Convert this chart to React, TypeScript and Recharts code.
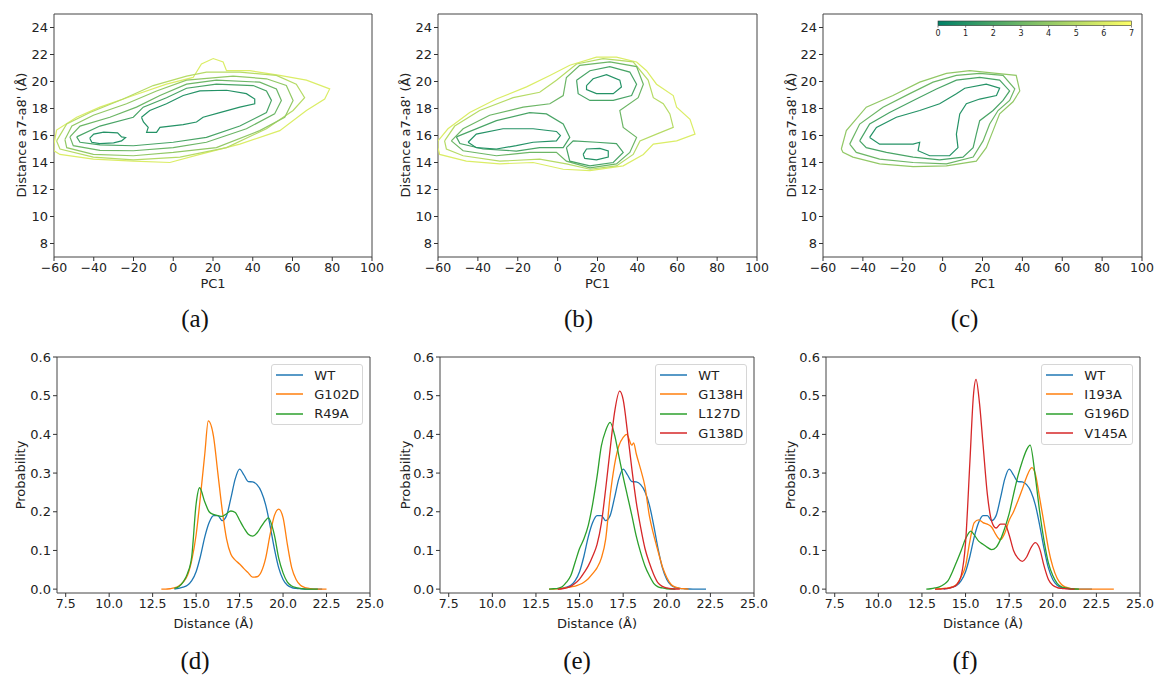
import React from "react";
import { LineChart, Line, XAxis, YAxis, ReferenceArea } from "recharts";

type Pt = [number, number];

// ---- tick labels ----
const pcTicks = [-60, -40, -20, 0, 20, 40, 60, 80, 100];
const distTicks = [8, 10, 12, 14, 16, 18, 20, 22, 24];
const distanceTicks = [7.5, 10.0, 12.5, 15.0, 17.5, 20.0, 22.5, 25.0];
const probTicks = [0.0, 0.1, 0.2, 0.3, 0.4, 0.5, 0.6];
const colorbarTicks = [0, 1, 2, 3, 4, 5, 6, 7];

// ---- free energy contours, (PC1, distance) ----
const aLevel1Left: Pt[] = [[-42, 15.8], [-40, 16.1], [-35, 16.25], [-28, 16.2], [-26, 15.9], [-24, 15.85], [-26, 15.6], [-30, 15.45], [-37, 15.4], [-41, 15.5], [-42, 15.8]];
const aLevel1Right: Pt[] = [[-16, 17.35], [-11.8, 17.85], [-3.4, 18.35], [5, 18.96], [13.4, 19.3], [26.8, 19.35], [36.8, 19.1], [41, 18.7], [41, 18.35], [33.5, 18.1], [23.4, 17.7], [15, 17.35], [11.7, 17.0], [5, 16.8], [-6.7, 16.6], [-8.4, 16.23], [-13.4, 16.23], [-12.6, 16.6], [-15, 17.0], [-16, 17.35]];
const aLevel2: Pt[] = [[-48.6, 15.9], [-36.9, 16.7], [-20.1, 17.35], [-15.1, 18.1], [-3.4, 18.8], [6.7, 19.5], [21.7, 19.8], [40.2, 19.7], [46.9, 19.3], [49.4, 18.6], [46.9, 17.7], [33.5, 16.7], [16.7, 15.86], [0, 15.5], [-20.1, 15.24], [-36.9, 15.3], [-46.9, 15.5], [-48.6, 15.9]];
const aLevel3: Pt[] = [[-52, 15.9], [-46.9, 16.7], [-31.9, 17.35], [-18.5, 18.1], [-6.7, 18.96], [6.7, 19.8], [21.7, 20.1], [43.5, 19.95], [51.9, 19.45], [54.4, 18.6], [51, 17.6], [36.8, 16.5], [16.7, 15.5], [0, 15.1], [-20.1, 14.87], [-36.9, 14.9], [-50.3, 15.25], [-52, 15.9]];
const aLevel4: Pt[] = [[-54.5, 15.7], [-51, 16.7], [-40.2, 17.5], [-23.5, 18.35], [-8.4, 19.3], [6.7, 20.1], [30.1, 20.4], [46.9, 20.2], [56.9, 19.7], [60.3, 18.6], [56.1, 17.35], [43.5, 16.36], [21.7, 15.1], [0, 14.75], [-20.1, 14.5], [-40.2, 14.6], [-53.6, 15.1], [-54.5, 15.7]];
const aLevel5: Pt[] = [[-58.7, 15.6], [-53.6, 16.85], [-41.9, 17.7], [-25.2, 18.7], [-10.1, 19.7], [6.7, 20.4], [16.7, 20.7], [33.5, 20.7], [51.9, 20.45], [61.9, 19.8], [66.1, 18.8], [60.3, 17.85], [46.9, 16.5], [26.8, 15.1], [3.4, 14.4], [-20.1, 14.2], [-40.2, 14.4], [-57, 15.0], [-58.7, 15.6]];
const aLevel6: Pt[] = [[-60, 15.36], [-58.7, 16.4], [-48.6, 17.35], [-36.9, 18.1], [-20.1, 18.96], [-3.4, 19.8], [10, 20.3], [14.2, 21.3], [20.1, 21.7], [25.1, 21.45], [26.8, 20.8], [38.5, 20.8], [53.6, 20.45], [67, 20.1], [78.7, 19.45], [76.2, 18.7], [67, 17.85], [53.6, 16.36], [33.5, 15.36], [13.4, 14.6], [-1.7, 14.0], [-20.1, 14.1], [-40.2, 14.25], [-57, 14.6], [-60, 14.87], [-60, 15.36]];

const bLevel1Left: Pt[] = [[-44.9, 15.5], [-40.8, 16.1], [-27.4, 16.5], [-12.3, 16.5], [-0.6, 16.3], [1.4, 16.0], [-0.6, 15.6], [-12.3, 15.5], [-20.7, 15.25], [-30.7, 15.0], [-40.8, 15.1], [-44.9, 15.5]];
const bLevel1Top: Pt[] = [[14.5, 19.7], [17.8, 20.2], [24.5, 20.5], [31.2, 20.1], [32, 19.6], [27.9, 19.1], [19.5, 19.1], [14.5, 19.4], [14.5, 19.7]];
const bLevel1Bottom: Pt[] = [[12.8, 14.6], [14.5, 15.0], [21.2, 15.05], [25.4, 14.85], [25.4, 14.4], [19.5, 14.2], [13.6, 14.3], [12.8, 14.6]];
const bLevel2Left: Pt[] = [[-50.8, 15.9], [-30.7, 17.1], [-14, 17.7], [-5.6, 17.6], [2.8, 16.85], [6.1, 15.86], [2.8, 15.1], [-9, 15.1], [-20.7, 14.85], [-37.4, 15.0], [-49, 15.4], [-50.8, 15.9]];
const bLevel2Top: Pt[] = [[9.5, 20.1], [16.2, 20.8], [26.2, 21.1], [36.2, 20.7], [39.6, 19.8], [37.1, 18.96], [27.9, 18.6], [16.2, 18.6], [10.3, 19.1], [9.5, 20.1]];
const bLevel2Bottom: Pt[] = [[4.4, 15.1], [7.8, 15.6], [19.5, 15.5], [29.5, 15.4], [32.9, 14.75], [27.9, 14.0], [16.2, 13.75], [6.1, 14.1], [4.4, 15.1]];
const bLevel3: Pt[] = [[-53.3, 15.6], [-47.4, 16.5], [-34.1, 17.5], [-17.3, 18.1], [-3.9, 18.35], [2.8, 18.96], [4.4, 20.3], [11.1, 21.2], [26.2, 21.45], [39.6, 21.1], [43, 19.8], [40.4, 18.8], [31.2, 17.85], [32.9, 16.6], [39.6, 15.86], [36.2, 14.75], [29.5, 13.9], [16.2, 13.6], [4.4, 14.1], [-0.6, 14.75], [-14, 14.75], [-30.7, 14.5], [-47.4, 14.87], [-53.3, 15.6]];
const bLevel4: Pt[] = [[-56.7, 15.6], [-51.6, 16.7], [-39.1, 17.85], [-22.3, 18.8], [-9, 19.2], [-0.6, 20.1], [9.5, 21.3], [22.8, 21.7], [37.9, 21.45], [45.4, 20.1], [48, 18.8], [53, 18.35], [56.3, 17.6], [58, 16.6], [49.6, 16.1], [41.3, 15.6], [37.9, 14.6], [29.5, 13.75], [16.2, 13.5], [4.4, 13.9], [-9, 14.25], [-29, 14.1], [-47.4, 14.5], [-55.8, 15.0], [-56.7, 15.6]];
const bLevel5: Pt[] = [[-60, 15.6], [-55, 16.5], [-44.1, 17.7], [-30.7, 18.7], [-15.6, 19.6], [-3.9, 20.45], [6.1, 21.2], [19.5, 21.8], [29.5, 21.8], [39.6, 21.45], [44.6, 20.8], [49.6, 19.8], [58, 18.96], [59.7, 18.1], [66.4, 17.2], [68.9, 16.1], [59.7, 15.6], [48, 15.36], [43, 14.6], [32.9, 13.75], [16.2, 13.4], [2.8, 13.5], [-12.3, 14.0], [-29, 13.9], [-45.8, 14.1], [-59.2, 14.6], [-60, 15.1], [-60, 15.6]];

const cLevel1: Pt[] = [[-36.6, 15.86], [-33.2, 16.6], [-23.2, 17.35], [-11.5, 17.85], [-1.5, 18.35], [6.9, 19.1], [11.1, 19.5], [21.9, 19.8], [28.6, 19.5], [27, 18.96], [18.6, 18.7], [11.9, 18.35], [8.6, 17.6], [6.9, 16.1], [7.7, 15.1], [3.5, 14.5], [-6.5, 14.5], [-12.3, 14.87], [-11.5, 15.5], [-14.8, 15.36], [-23.2, 15.36], [-31.6, 15.36], [-36.6, 15.86]];
const cLevel2: Pt[] = [[-41.6, 15.6], [-36.6, 16.85], [-26.6, 17.7], [-13.2, 18.7], [-3.1, 19.45], [6.9, 20.1], [18.6, 20.3], [28.6, 20.1], [33.6, 19.3], [30.3, 18.6], [25.3, 17.85], [18.6, 17.1], [16.9, 16.1], [15.3, 15.1], [10.2, 14.4], [-1.5, 14.2], [-14.8, 14.4], [-28.2, 14.75], [-38.3, 15.1], [-41.6, 15.6]];
const cLevel3: Pt[] = [[-46.6, 15.36], [-41.6, 16.85], [-29.9, 18.1], [-16.5, 19.1], [-4.8, 19.95], [6.9, 20.45], [18.6, 20.6], [30.3, 20.45], [36.2, 19.45], [33.6, 18.6], [27.8, 17.85], [23.6, 16.85], [20.3, 15.6], [15.3, 14.4], [1.9, 13.9], [-14.8, 14.0], [-31.6, 14.25], [-43.3, 14.75], [-46.6, 15.36]];
const cLevel4: Pt[] = [[-50.8, 15.0], [-48.3, 16.36], [-38.3, 18.1], [-24.9, 18.96], [-11.5, 19.95], [1.9, 20.6], [13.6, 20.8], [27, 20.6], [36.9, 20.45], [38.7, 19.3], [35.3, 18.5], [28.6, 17.6], [25.3, 16.36], [21.9, 15.1], [16.9, 14.1], [1.9, 13.75], [-14.8, 13.7], [-31.6, 13.9], [-45, 14.4], [-50, 14.75], [-50.8, 15.0]];

// ---- distance probability distributions, (distance, probability) ----
const wt: Pt[] = [[13.75, 0], [14.0, 0.002], [14.25, 0.005], [14.5, 0.01], [14.75, 0.022], [15.0, 0.045], [15.25, 0.085], [15.5, 0.135], [15.75, 0.172], [16.0, 0.19], [16.25, 0.19], [16.5, 0.177], [16.75, 0.19], [17.0, 0.235], [17.25, 0.285], [17.5, 0.31], [17.75, 0.295], [18.0, 0.278], [18.25, 0.277], [18.5, 0.27], [18.75, 0.252], [19.0, 0.218], [19.25, 0.165], [19.5, 0.105], [19.75, 0.055], [20.0, 0.025], [20.25, 0.01], [20.5, 0.004], [20.75, 0.002], [21.0, 0.001], [21.5, 0], [22.25, 0]];
const g102d: Pt[] = [[13.0, 0], [13.25, 0], [13.5, 0.001], [13.75, 0.003], [14.0, 0.008], [14.25, 0.018], [14.5, 0.035], [14.75, 0.075], [15.0, 0.14], [15.25, 0.24], [15.5, 0.35], [15.7, 0.435], [16.0, 0.395], [16.25, 0.3], [16.5, 0.205], [16.75, 0.13], [17.0, 0.09], [17.25, 0.075], [17.5, 0.065], [17.75, 0.053], [18.0, 0.042], [18.25, 0.031], [18.5, 0.032], [18.75, 0.045], [19.0, 0.08], [19.25, 0.14], [19.5, 0.19], [19.75, 0.207], [20.0, 0.185], [20.25, 0.115], [20.5, 0.055], [20.75, 0.025], [21.0, 0.01], [21.25, 0.004], [21.5, 0.002], [21.75, 0], [22.5, 0]];
const r49a: Pt[] = [[13.75, 0.002], [14.0, 0.006], [14.25, 0.018], [14.5, 0.04], [14.75, 0.085], [15.0, 0.22], [15.2, 0.262], [15.5, 0.225], [15.75, 0.2], [16.0, 0.193], [16.25, 0.19], [16.5, 0.188], [16.75, 0.195], [17.0, 0.202], [17.25, 0.198], [17.5, 0.178], [17.75, 0.158], [18.0, 0.142], [18.25, 0.137], [18.5, 0.145], [18.75, 0.162], [19.0, 0.178], [19.15, 0.184], [19.5, 0.14], [19.75, 0.08], [20.0, 0.042], [20.25, 0.018], [20.5, 0.008], [20.75, 0.004], [21.0, 0.002], [21.25, 0], [22.0, 0]];
const g138h: Pt[] = [[13.25, 0], [13.5, 0], [13.75, 0.001], [14.0, 0.002], [14.25, 0.004], [14.5, 0.006], [14.75, 0.008], [15.0, 0.012], [15.25, 0.018], [15.5, 0.027], [15.75, 0.04], [16.0, 0.055], [16.25, 0.08], [16.5, 0.13], [16.75, 0.24], [17.0, 0.32], [17.25, 0.37], [17.5, 0.392], [17.7, 0.4], [18.0, 0.372], [18.1, 0.378], [18.25, 0.35], [18.5, 0.31], [18.75, 0.265], [19.0, 0.19], [19.25, 0.14], [19.5, 0.098], [19.75, 0.058], [20.0, 0.03], [20.25, 0.012], [20.5, 0.005], [20.75, 0.002], [21.0, 0.001], [21.25, 0]];
const l127d: Pt[] = [[13.25, 0], [13.5, 0.001], [13.75, 0.002], [14.0, 0.006], [14.25, 0.018], [14.5, 0.035], [14.75, 0.07], [15.0, 0.105], [15.25, 0.13], [15.5, 0.165], [15.75, 0.22], [16.0, 0.29], [16.25, 0.37], [16.5, 0.41], [16.75, 0.431], [17.0, 0.4], [17.25, 0.345], [17.5, 0.29], [17.75, 0.24], [18.0, 0.19], [18.25, 0.137], [18.5, 0.095], [18.75, 0.06], [19.0, 0.035], [19.25, 0.015], [19.5, 0.006], [19.75, 0.003], [20.0, 0.001], [20.5, 0]];
const g138d: Pt[] = [[13.75, 0], [14.0, 0.001], [14.25, 0.003], [14.5, 0.007], [14.75, 0.015], [15.0, 0.026], [15.25, 0.042], [15.5, 0.06], [15.75, 0.085], [16.0, 0.115], [16.25, 0.17], [16.5, 0.26], [16.75, 0.36], [17.0, 0.455], [17.3, 0.512], [17.5, 0.49], [17.75, 0.405], [18.0, 0.31], [18.25, 0.225], [18.5, 0.16], [18.75, 0.105], [19.0, 0.068], [19.25, 0.038], [19.5, 0.016], [19.75, 0.007], [20.0, 0.003], [20.25, 0.001], [20.75, 0]];
const i193a: Pt[] = [[13.25, 0], [13.5, 0.001], [13.75, 0.002], [14.0, 0.003], [14.25, 0.006], [14.5, 0.013], [14.75, 0.032], [15.0, 0.06], [15.25, 0.125], [15.5, 0.172], [15.75, 0.179], [16.0, 0.172], [16.25, 0.168], [16.5, 0.16], [16.75, 0.14], [17.0, 0.128], [17.25, 0.145], [17.5, 0.178], [17.75, 0.2], [18.0, 0.228], [18.25, 0.258], [18.5, 0.29], [18.8, 0.314], [19.0, 0.298], [19.25, 0.235], [19.5, 0.17], [19.75, 0.105], [20.0, 0.058], [20.25, 0.028], [20.5, 0.012], [20.75, 0.005], [21.0, 0.002], [21.25, 0.001], [21.5, 0], [23.5, 0]];
const g196d: Pt[] = [[12.75, 0], [13.0, 0.001], [13.25, 0.003], [13.5, 0.006], [13.75, 0.012], [14.0, 0.022], [14.25, 0.045], [14.5, 0.072], [14.75, 0.1], [15.0, 0.13], [15.3, 0.15], [15.5, 0.14], [15.75, 0.124], [16.0, 0.116], [16.25, 0.108], [16.5, 0.102], [16.75, 0.108], [17.0, 0.128], [17.25, 0.158], [17.5, 0.195], [17.75, 0.245], [18.0, 0.292], [18.25, 0.33], [18.5, 0.36], [18.7, 0.372], [19.0, 0.29], [19.25, 0.2], [19.5, 0.125], [19.75, 0.068], [20.0, 0.035], [20.25, 0.015], [20.5, 0.006], [20.75, 0.003], [21.0, 0.001], [21.5, 0]];
const v145a: Pt[] = [[13.25, 0], [13.5, 0], [13.75, 0.001], [14.0, 0.002], [14.25, 0.005], [14.5, 0.012], [14.75, 0.035], [15.0, 0.12], [15.25, 0.33], [15.45, 0.5], [15.6, 0.542], [15.8, 0.48], [16.0, 0.375], [16.25, 0.245], [16.5, 0.175], [16.75, 0.158], [17.0, 0.168], [17.25, 0.168], [17.5, 0.14], [17.75, 0.1], [18.0, 0.08], [18.25, 0.072], [18.5, 0.083], [18.75, 0.107], [19.0, 0.12], [19.25, 0.104], [19.5, 0.06], [19.75, 0.025], [20.0, 0.01], [20.25, 0.004], [20.5, 0.002], [20.75, 0.001], [21.0, 0], [21.25, 0]];

const TAB_BLUE = "#1f77b4";
const TAB_ORANGE = "#ff7f0e";
const TAB_GREEN = "#2ca02c";
const TAB_RED = "#d62728";

const FONT = "'DejaVu Sans', sans-serif";
const TEXT = "#222";

// matplotlib "summer" colormap over 0..7
function summer(level: number): string {
  const t = Math.max(0, Math.min(1, level / 7));
  const r = Math.round(255 * t);
  const g = Math.round(255 * (0.5 + 0.5 * t));
  const b = Math.round(255 * 0.4);
  return `rgb(${r},${g},${b})`;
}

const fmtPc = (v: number) => (v < 0 ? "\u2212" + Math.abs(v) : String(v));

const toXY = (pts: Pt[]) => pts.map(([x, y]) => ({ x, y }));

interface Contour {
  level: number;
  pts: Pt[];
}

const contoursA: Contour[] = [
  { level: 6, pts: aLevel6 },
  { level: 5, pts: aLevel5 },
  { level: 4, pts: aLevel4 },
  { level: 3, pts: aLevel3 },
  { level: 2, pts: aLevel2 },
  { level: 1, pts: aLevel1Left },
  { level: 1, pts: aLevel1Right },
];
const contoursB: Contour[] = [
  { level: 6, pts: bLevel5 },
  { level: 5, pts: bLevel4 },
  { level: 3, pts: bLevel3 },
  { level: 2, pts: bLevel2Left },
  { level: 2, pts: bLevel2Top },
  { level: 2, pts: bLevel2Bottom },
  { level: 1, pts: bLevel1Left },
  { level: 1, pts: bLevel1Top },
  { level: 1, pts: bLevel1Bottom },
];
const contoursC: Contour[] = [
  { level: 4, pts: cLevel4 },
  { level: 3, pts: cLevel3 },
  { level: 2, pts: cLevel2 },
  { level: 1, pts: cLevel1 },
];

interface Series {
  name: string;
  color: string;
  pts: Pt[];
}

const seriesD: Series[] = [
  { name: "WT", color: TAB_BLUE, pts: wt },
  { name: "G102D", color: TAB_ORANGE, pts: g102d },
  { name: "R49A", color: TAB_GREEN, pts: r49a },
];
const seriesE: Series[] = [
  { name: "WT", color: TAB_BLUE, pts: wt },
  { name: "G138H", color: TAB_ORANGE, pts: g138h },
  { name: "L127D", color: TAB_GREEN, pts: l127d },
  { name: "G138D", color: TAB_RED, pts: g138d },
];
const seriesF: Series[] = [
  { name: "WT", color: TAB_BLUE, pts: wt },
  { name: "I193A", color: TAB_ORANGE, pts: i193a },
  { name: "G196D", color: TAB_GREEN, pts: g196d },
  { name: "V145A", color: TAB_RED, pts: v145a },
];

const xTickStyle = { fontSize: 12.5, fill: TEXT };
const yTickStyle = { fontSize: 13, fill: TEXT };

function YLabel({ text, x, y }: { text: string; x: number; y: number }) {
  return (
    <div
      style={{
        position: "absolute",
        left: x,
        top: y,
        transform: "translate(-50%, -50%) rotate(-90deg)",
        whiteSpace: "nowrap",
        fontSize: 13,
        color: TEXT,
        lineHeight: "15px",
      }}
    >
      {text}
    </div>
  );
}

function XLabel({ text, x, y }: { text: string; x: number; y: number }) {
  return (
    <div
      style={{
        position: "absolute",
        left: x,
        top: y,
        transform: "translate(-50%, -50%)",
        whiteSpace: "nowrap",
        fontSize: 13,
        color: TEXT,
        lineHeight: "15px",
      }}
    >
      {text}
    </div>
  );
}

function Caption({ text, x, y }: { text: string; x: number; y: number }) {
  return (
    <div
      style={{
        position: "absolute",
        left: x,
        top: y,
        transform: "translate(-50%, -50%)",
        fontFamily: "'Liberation Serif', serif",
        fontSize: 25,
        lineHeight: "28px",
        color: "#111",
      }}
    >
      {text}
    </div>
  );
}

interface ContourProps {
  left: number;
  width: number;
  yAxisWidth: number;
  marginRight: number;
  contours: Contour[];
}

function ContourPanel({ left, width, yAxisWidth, marginRight, contours }: ContourProps) {
  return (
    <div style={{ position: "absolute", left, top: 0 }}>
      <LineChart width={width} height={300} margin={{ top: 14, right: marginRight, bottom: 0, left: 0 }}>
        <XAxis
          type="number"
          dataKey="x"
          domain={[-60, 100]}
          ticks={pcTicks}
          tickFormatter={fmtPc}
          allowDataOverflow
          height={43}
          axisLine={false}
          tickLine={{ stroke: "#333" }}
          tickSize={4}
          tick={xTickStyle}
          interval={0}
        />
        <YAxis
          type="number"
          dataKey="y"
          domain={[7, 25]}
          ticks={distTicks}
          allowDataOverflow
          width={yAxisWidth}
          axisLine={false}
          tickLine={{ stroke: "#333" }}
          tickSize={4}
          tick={yTickStyle}
          interval={0}
        />
        {contours.map((c, i) => (
          <Line
            key={i}
            data={toXY(c.pts)}
            dataKey="y"
            type="linear"
            stroke={summer(c.level)}
            strokeWidth={1.2}
            dot={false}
            activeDot={false}
            isAnimationActive={false}
          />
        ))}
        <ReferenceArea x1={-60} x2={100} y1={7} y2={25} fill="none" stroke="#444" strokeWidth={1} ifOverflow="visible" />
      </LineChart>
    </div>
  );
}

interface DistProps {
  left: number;
  width: number;
  yAxisWidth: number;
  marginRight: number;
  series: Series[];
}

function DistPanel({ left, width, yAxisWidth, marginRight, series }: DistProps) {
  const plotRight = width - marginRight;
  return (
    <div style={{ position: "absolute", left, top: 340 }}>
      <LineChart width={width} height={300} margin={{ top: 17, right: marginRight, bottom: 0, left: 0 }}>
        <XAxis
          type="number"
          dataKey="x"
          domain={[7, 25]}
          ticks={distanceTicks}
          tickFormatter={(v: number) => v.toFixed(1)}
          allowDataOverflow
          height={47}
          axisLine={false}
          tickLine={{ stroke: "#333" }}
          tickSize={4}
          tick={xTickStyle}
          interval={0}
        />
        <YAxis
          type="number"
          dataKey="y"
          domain={[-0.01, 0.6]}
          ticks={probTicks}
          tickFormatter={(v: number) => v.toFixed(1)}
          allowDataOverflow
          width={yAxisWidth}
          axisLine={false}
          tickLine={{ stroke: "#333" }}
          tickSize={4}
          tick={yTickStyle}
          interval={0}
        />
        {series.map((s) => (
          <Line
            key={s.name}
            name={s.name}
            data={toXY(s.pts)}
            dataKey="y"
            type="monotone"
            stroke={s.color}
            strokeWidth={1.3}
            dot={false}
            activeDot={false}
            isAnimationActive={false}
          />
        ))}
        <ReferenceArea x1={7} x2={25} y1={-0.01} y2={0.6} fill="none" stroke="#444" strokeWidth={1} ifOverflow="visible" />
      </LineChart>
      <div
        style={{
          position: "absolute",
          left: plotRight - 6.7 - 92,
          top: 17 + 6.5,
          width: 92,
          boxSizing: "border-box",
          padding: "1px 0",
          border: "1px solid #d6d6d6",
          borderRadius: 3,
          background: "rgba(255,255,255,0.85)",
        }}
      >
        {series.map((s) => (
          <div key={s.name} style={{ display: "flex", alignItems: "center", height: 19.3 }}>
            <svg width={42} height={4} style={{ flex: "none" }}>
              <line x1={4} x2={31} y1={2} y2={2} stroke={s.color} strokeWidth={1.5} />
            </svg>
            <span style={{ fontSize: 13, color: TEXT, lineHeight: "15px" }}>{s.name}</span>
          </div>
        ))}
      </div>
    </div>
  );
}

function Colorbar() {
  const left = 938;
  const top = 20.7;
  const w = 193.5;
  const h = 4.6;
  return (
    <div style={{ position: "absolute", left: left - 6, top, width: w + 12, height: 20 }}>
      <svg width={w + 12} height={20} style={{ overflow: "visible" }}>
        <defs>
          <linearGradient id="summerGrad" x1="0" x2="1" y1="0" y2="0">
            <stop offset="0%" stopColor={summer(0)} />
            <stop offset="100%" stopColor={summer(7)} />
          </linearGradient>
        </defs>
        <rect x={6} y={0} width={w} height={h} fill="url(#summerGrad)" stroke="#333" strokeWidth={0.6} />
        {colorbarTicks.map((t) => (
          <g key={t}>
            <line x1={6 + (t / 7) * w} x2={6 + (t / 7) * w} y1={h} y2={h + 2} stroke="#333" strokeWidth={0.6} />
            <text x={6 + (t / 7) * w} y={h + 10} fontSize={8} textAnchor="middle" fill={TEXT}>
              {t}
            </text>
          </g>
        ))}
      </svg>
    </div>
  );
}

export default function App() {
  const yLab = "Distance a7-a8' (\u00c5)";
  return (
    <div
      style={{
        position: "absolute",
        left: 0,
        top: 0,
        width: 1167,
        height: 683,
        background: "#fff",
        fontFamily: FONT,
        overflow: "hidden",
      }}
    >
      <ContourPanel left={0} width={390} yAxisWidth={54} marginRight={18} contours={contoursA} />
      <ContourPanel left={390} width={390} yAxisWidth={48} marginRight={23} contours={contoursB} />
      <ContourPanel left={780} width={387} yAxisWidth={43} marginRight={25} contours={contoursC} />
      <Colorbar />

      <DistPanel left={0} width={390} yAxisWidth={57} marginRight={20} series={seriesD} />
      <DistPanel left={390} width={390} yAxisWidth={50} marginRight={26} series={seriesE} />
      <DistPanel left={780} width={387} yAxisWidth={46} marginRight={27} series={seriesF} />

      <YLabel text={yLab} x={21} y={135} />
      <YLabel text={yLab} x={405} y={135} />
      <YLabel text={yLab} x={791} y={135} />
      <XLabel text="PC1" x={213} y={283.3} />
      <XLabel text="PC1" x={597.5} y={283.3} />
      <XLabel text="PC1" x={983} y={283.3} />

      <YLabel text="Probability" x={20} y={475} />
      <YLabel text="Probability" x={405} y={475} />
      <YLabel text="Probability" x={790} y={475} />
      <XLabel text={"Distance (\u00c5)"} x={213.5} y={622.7} />
      <XLabel text={"Distance (\u00c5)"} x={597} y={622.7} />
      <XLabel text={"Distance (\u00c5)"} x={983} y={622.7} />

      <Caption text="(a)" x={195} y={319} />
      <Caption text="(b)" x={578.5} y={319} />
      <Caption text="(c)" x={964.5} y={319} />
      <Caption text="(d)" x={195} y={661} />
      <Caption text="(e)" x={577} y={661} />
      <Caption text="(f)" x={965} y={661} />
    </div>
  );
}
